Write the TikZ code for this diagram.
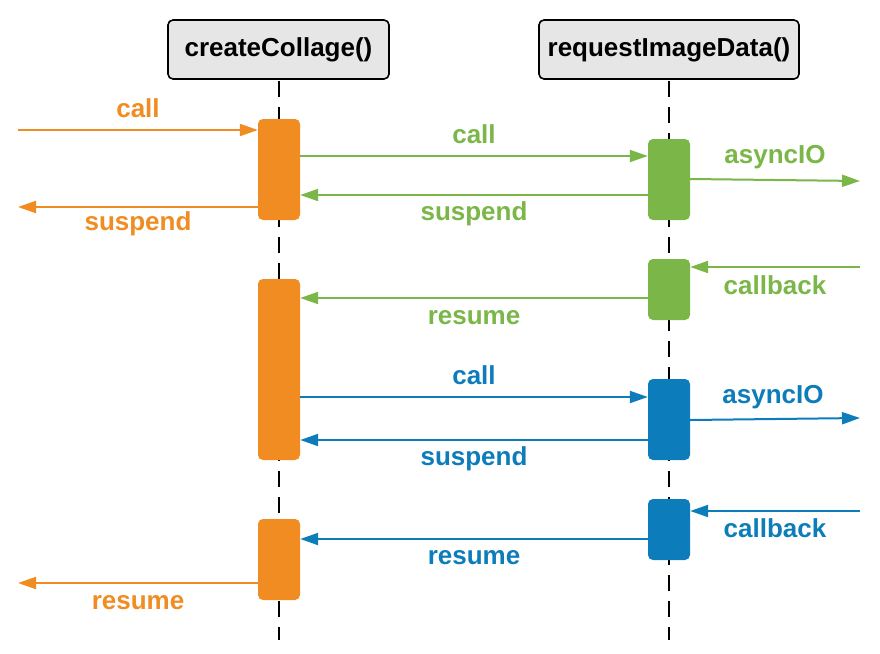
\documentclass[tikz,border=0pt]{standalone}
\usepackage{fontspec}
\setmainfont{Liberation Sans}
\usetikzlibrary{arrows.meta}
\definecolor{corange}{HTML}{F08C22}
\definecolor{cgreen}{HTML}{7AB648}
\definecolor{cblue}{HTML}{0C7CBA}
\definecolor{headfill}{HTML}{E6E6E6}
\begin{document}
\begin{tikzpicture}[x=1pt,y=-1pt,
  header/.style={draw=black,line width=1.6pt,fill=headfill,rounded corners=5pt,
    minimum width=#1,minimum height=59pt,inner sep=0pt,
    font=\fontsize{26}{30}\selectfont\bfseries},
  lifeline/.style={line width=2pt,dash pattern=on 16pt off 10pt},
  act/.style={fill=#1,rounded corners=5pt,minimum width=42pt,inner sep=0pt},
  msg/.style={draw=#1,line width=2pt,-{Triangle[length=18pt,width=12pt]}},
  lbl/.style={text=#1,font=\fontsize{26}{30}\selectfont\bfseries,inner sep=0pt}]
\useasboundingbox (0,0) rectangle (880,653);

% lifelines
\draw[lifeline] (279,81) -- (279,640);
\draw[lifeline] (669,81) -- (669,640);

% object headers
\node[header=221pt] (h1) at (278.5,49.5) {createCollage()};
\node[header=260pt] (h2) at (669,49.5) {requestImageData()};

% activation bars
\node[act=corange,minimum height=101pt] (a1) at (279,169.5) {};
\node[act=corange,minimum height=181pt] (a2) at (279,369.5) {};
\node[act=corange,minimum height=81pt]  (a3) at (279,559.5) {};
\node[act=cgreen,minimum height=81pt]   (g1) at (669,179.5) {};
\node[act=cgreen,minimum height=61pt]   (g2) at (669,289.5) {};
\node[act=cblue,minimum height=81pt]    (b1) at (669,419.5) {};
\node[act=cblue,minimum height=61pt]    (b2) at (669,529.5) {};

% free message ends
\coordinate (callIn)   at (18,130);
\coordinate (suspOut)  at (18,207);
\coordinate (resOut)   at (18,583);
\coordinate (ioG)      at (860,181);
\coordinate (cbG)      at (860,267);
\coordinate (ioB)      at (860,418);
\coordinate (cbB)      at (860,511);

% outer caller
\draw[msg=corange] (callIn) -- (a1.west |- callIn);
\draw[msg=corange] (a1.west |- suspOut) -- (suspOut);
\draw[msg=corange] (a3.west |- resOut) -- (resOut);

% first request (green)
\draw[msg=cgreen] (a1.east |- 0,156) -- (g1.west |- 0,156);
\draw[msg=cgreen] (g1.west |- 0,195) -- (a1.east |- 0,195);
\draw[msg=cgreen] (g1.east |- 0,179) -- (ioG);
\draw[msg=cgreen] (cbG) -- (g2.east |- cbG);
\draw[msg=cgreen] (g2.west |- 0,298) -- (a2.east |- 0,298);

% second request (blue)
\draw[msg=cblue] (a2.east |- 0,397) -- (b1.west |- 0,397);
\draw[msg=cblue] (b1.west |- 0,440) -- (a2.east |- 0,440);
\draw[msg=cblue] (b1.east |- 0,420) -- (ioB);
\draw[msg=cblue] (cbB) -- (b2.east |- cbB);
\draw[msg=cblue] (b2.west |- 0,539) -- (a3.east |- 0,539);

% message labels
\node[lbl=corange] (l1)  at (138,108) {call};
\node[lbl=corange] (l2)  at (138,224) {suspend};
\node[lbl=corange] (l3)  at (138,603) {resume};
\node[lbl=cgreen]  (l4)  at (474,134) {call};
\node[lbl=cgreen]  (l5)  at (474,214) {suspend};
\node[lbl=cgreen]  (l6)  at (775,157) {asyncIO};
\node[lbl=cgreen]  (l7)  at (775,285) {callback};
\node[lbl=cgreen]  (l8)  at (474,318) {resume};
\node[lbl=cblue]   (l9)  at (474,375) {call};
\node[lbl=cblue]   (l10) at (474,459) {suspend};
\node[lbl=cblue]   (l11) at (773,397) {asyncIO};
\node[lbl=cblue]   (l12) at (775,528) {callback};
\node[lbl=cblue]   (l13) at (474,558) {resume};
\end{tikzpicture}
\end{document}
